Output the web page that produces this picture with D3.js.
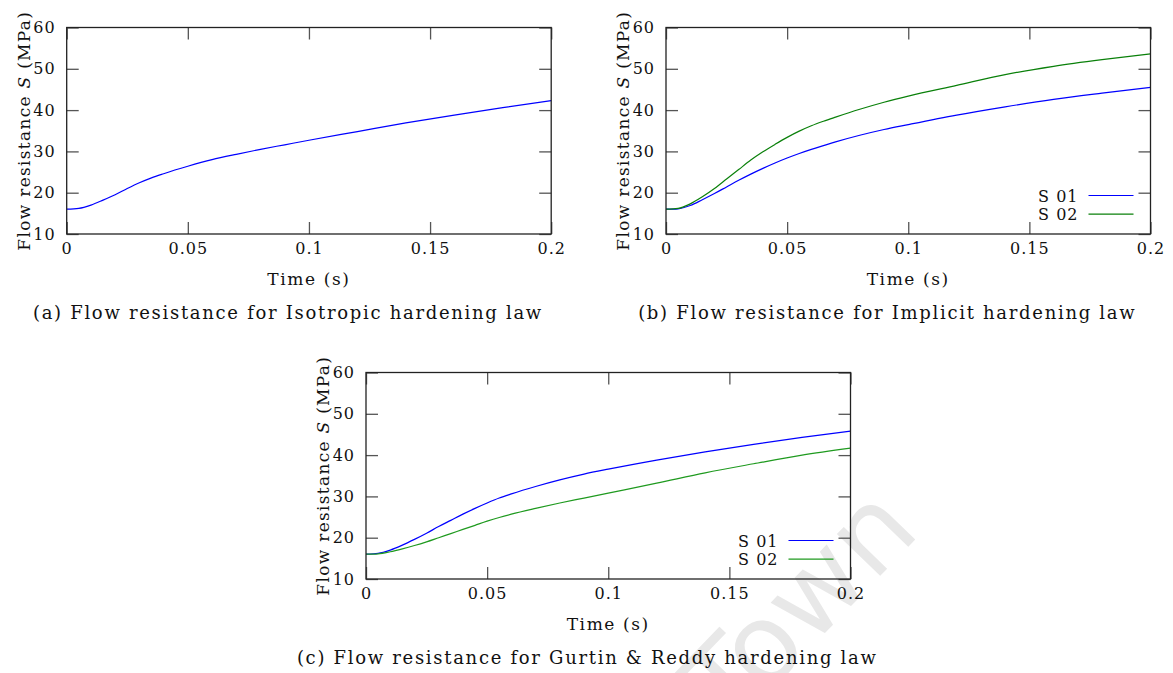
<!DOCTYPE html>
<html>
<head>
<meta charset="utf-8">
<script src="https://cdn.jsdelivr.net/npm/d3@7"></script>
<style>
  body { margin: 0; background: #fff; }
  text { font-family: "DejaVu Serif", serif; fill: #111; }
</style>
</head>
<body>
<div id="chart"></div>
<script>
// data
var xTicks = [0, 0.05, 0.1, 0.15, 0.2]
var yTicks = [10, 20, 30, 40, 50, 60]

// (a) isotropic hardening
var timeA = [0, 0.005, 0.01, 0.015, 0.02, 0.025, 0.03, 0.035, 0.04, 0.05, 0.06, 0.07, 0.08, 0.09, 0.1, 0.12, 0.14, 0.16, 0.18, 0.2]
var isoS = [16.0, 16.2, 17.0, 18.2, 19.5, 21.0, 22.4, 23.6, 24.6, 26.4, 28.0, 29.3, 30.5, 31.6, 32.7, 34.8, 36.9, 38.8, 40.6, 42.3]

// (b) implicit hardening
var timeB = [0, 0.005, 0.01, 0.015, 0.02, 0.025, 0.03, 0.035, 0.04, 0.045, 0.05, 0.055, 0.06, 0.065, 0.07, 0.08, 0.09, 0.1, 0.12, 0.14, 0.16, 0.18, 0.2]
var implicitS01 = [16.0, 16.1, 16.9, 18.3, 19.8, 21.4, 23.0, 24.5, 25.9, 27.2, 28.4, 29.5, 30.5, 31.4, 32.3, 33.9, 35.3, 36.5, 38.8, 40.8, 42.6, 44.1, 45.5]
var implicitS02 = [16.0, 16.2, 17.3, 19.0, 21.0, 23.3, 25.6, 27.9, 29.9, 31.7, 33.4, 34.9, 36.2, 37.3, 38.3, 40.2, 41.9, 43.4, 46.0, 48.6, 50.6, 52.2, 53.6]

// (c) Gurtin & Reddy hardening
var timeC = [0, 0.005, 0.01, 0.015, 0.02, 0.025, 0.03, 0.035, 0.04, 0.045, 0.05, 0.055, 0.06, 0.07, 0.08, 0.09, 0.1, 0.12, 0.14, 0.16, 0.18, 0.2]
var gurtinS01 = [16.0, 16.2, 17.0, 18.2, 19.6, 21.1, 22.7, 24.2, 25.7, 27.1, 28.4, 29.6, 30.6, 32.4, 34.0, 35.4, 36.6, 38.8, 40.8, 42.6, 44.3, 45.8]
var gurtinS02 = [16.0, 16.1, 16.6, 17.3, 18.1, 19.0, 20.0, 21.0, 22.0, 23.0, 24.0, 24.9, 25.7, 27.1, 28.4, 29.6, 30.8, 33.2, 35.7, 37.9, 40.0, 41.7]

var seriesNames = ["S 01", "S 02"]
var captions = [
  "(a) Flow resistance for Isotropic hardening law",
  "(b) Flow resistance for Implicit hardening law",
  "(c) Flow resistance for Gurtin & Reddy hardening law"
]

var W = 1173, H = 673

var svg = d3.select("#chart")
  .append("svg")
  .attr("width", W)
  .attr("height", H)

// faint watermark behind everything
svg.append("text")
  .attr("transform", "translate(826,632) rotate(-46)")
  .attr("text-anchor", "middle")
  .style("font-family", "'DejaVu Sans', sans-serif")
  .style("font-size", "110px")
  .style("fill", "#e8e8e8")
  .text("Town")

var pw = 484.5, ph = 206.5

var panels = [
  {left: 66.7, top: 27.5, time: timeA, series: [isoS], colors: ["#0000ff"], legend: false, caption: captions[0]},
  {left: 666, top: 27.5, time: timeB, series: [implicitS01, implicitS02], colors: ["#0000ff", "#0a800a"], legend: true, caption: captions[1]},
  {left: 366, top: 372.5, time: timeC, series: [gurtinS01, gurtinS02], colors: ["#0000ff", "#1f9a1f"], legend: true, caption: captions[2]}
]

var x = d3.scaleLinear().domain([0, 0.2]).range([0, pw])
var y = d3.scaleLinear().domain([10, 60]).range([ph, 0])

var fmt = function(d) { return String(+d.toFixed(2)) }

panels.forEach(function(p) {
  var g = svg.append("g")
    .attr("transform", "translate(" + p.left + "," + p.top + ")")

  var line = d3.line()
    .x(function(d, i) { return x(p.time[i]) })
    .y(function(d) { return y(d) })
    .curve(d3.curveMonotoneX)

  p.series.forEach(function(s, k) {
    g.append("path")
      .attr("d", line(s))
      .attr("fill", "none")
      .attr("stroke", p.colors[k])
      .attr("stroke-width", 1.2)
  })

  // axes, ticks pointing inward on all four sides
  var bottom = g.append("g")
    .attr("transform", "translate(0," + ph + ")")
    .call(d3.axisBottom(x).tickValues(xTicks).tickFormat(fmt).tickSizeInner(-12).tickSizeOuter(0).tickPadding(9))
  var left = g.append("g")
    .call(d3.axisLeft(y).tickValues(yTicks).tickSizeInner(-12).tickSizeOuter(0).tickPadding(11))
  g.append("g")
    .call(d3.axisTop(x).tickValues(xTicks).tickFormat("").tickSizeInner(-12).tickSizeOuter(0))
  g.append("g")
    .attr("transform", "translate(" + pw + ",0)")
    .call(d3.axisRight(y).tickValues(yTicks).tickFormat("").tickSizeInner(-12).tickSizeOuter(0))

  g.selectAll(".domain").remove()
  g.selectAll(".tick line").attr("stroke", "#555").attr("stroke-width", 1.3)
  g.selectAll(".tick text")
    .style("font-family", "'DejaVu Serif', serif")
    .style("font-size", "16px")
    .style("letter-spacing", "1px")
    .attr("fill", "#111")

  g.append("rect")
    .attr("width", pw)
    .attr("height", ph)
    .attr("fill", "none")
    .attr("stroke", "#222")
    .attr("stroke-width", 1.3)

  g.append("text")
    .attr("x", pw / 2)
    .attr("y", ph + 51)
    .attr("text-anchor", "middle")
    .style("font-size", "17px")
    .style("letter-spacing", "1.6px")
    .text("Time (s)")

  var yl = g.append("text")
    .attr("transform", "translate(-37," + (ph / 2) + ") rotate(-90)")
    .attr("text-anchor", "middle")
    .style("font-size", "17px")
    .style("letter-spacing", "1.3px")
  yl.append("tspan").text("Flow resistance ")
  yl.append("tspan").style("font-style", "italic").text("S")
  yl.append("tspan").text(" (MPa)")

  if (p.legend) {
    p.series.forEach(function(s, k) {
      var ly = ph - 38.5 + k * 18.7
      g.append("line")
        .attr("x1", pw - 62).attr("x2", pw - 17)
        .attr("y1", ly).attr("y2", ly)
        .attr("stroke", p.colors[k])
        .attr("stroke-width", 1.2)
      g.append("text")
        .attr("x", pw - 72)
        .attr("y", ly + 6)
        .attr("text-anchor", "end")
        .style("font-size", "16px")
        .style("letter-spacing", "1px")
        .text(seriesNames[k])
    })
  }

  g.append("text")
    .attr("x", pw / 2 - 21)
    .attr("y", ph + 85)
    .attr("text-anchor", "middle")
    .style("font-size", "18px")
    .style("letter-spacing", "1.7px")
    .text(p.caption)
})
</script>
</body>
</html>
